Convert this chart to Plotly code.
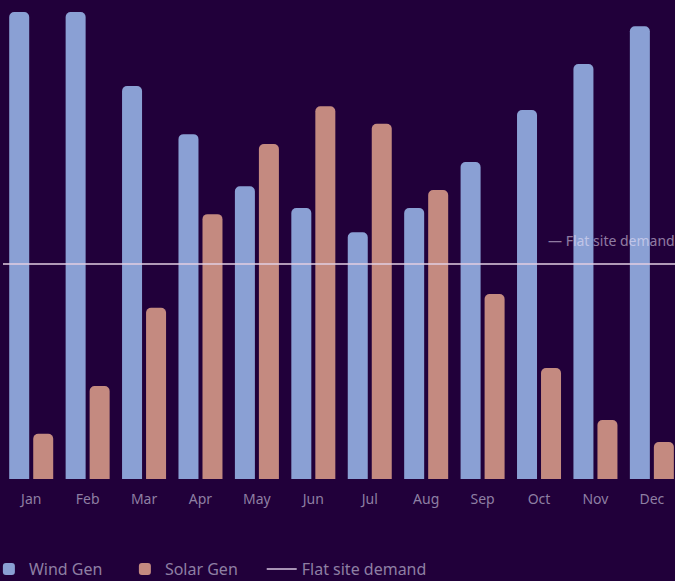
import plotly.graph_objects as go

months = ["Jan", "Feb", "Mar", "Apr", "May", "Jun", "Jul", "Aug", "Sep", "Oct", "Nov", "Dec"]
wind_gen = [108.6, 108.6, 91.4, 80.2, 68.1, 63.0, 57.4, 63.0, 73.7, 85.8, 96.5, 105.3]
solar_gen = [10.5, 21.6, 39.8, 61.6, 77.9, 86.7, 82.6, 67.2, 43.0, 25.8, 13.7, 8.6]
flat_demand = 50.0

BG = "#21003a"
TXT = "#8e7fa3"
WIND = "#8aa0d4"
SOLAR = "#c48a80"
LINE = "rgba(225,205,225,0.75)"
FONT = "Noto Sans, Open Sans, sans-serif"

fig = go.Figure()
fig.add_trace(go.Bar(name="Wind Gen", x=months, y=wind_gen, marker_color=WIND, marker_line_width=0))
fig.add_trace(go.Bar(name="Solar Gen", x=months, y=solar_gen, marker_color=SOLAR, marker_line_width=0))
fig.add_trace(go.Scatter(name="Flat site demand", x=[None], y=[None], mode="lines",
                         line=dict(color="#a893b5", width=2), legend="legend2"))

fig.add_shape(type="line", xref="paper", yref="y", x0=0, x1=1, y0=flat_demand, y1=flat_demand,
              line=dict(color=LINE, width=2), layer="above")
fig.add_annotation(xref="paper", yref="y", x=1, y=flat_demand, xanchor="right", yanchor="bottom",
                   text="— Flat site demand", showarrow=False, yshift=12, xshift=2,
                   font=dict(color="rgba(240,230,250,0.55)", size=14, family=FONT))

leg_common = dict(orientation="h", xref="paper", y=-0.188, yref="paper",
                  xanchor="left", yanchor="middle",
                  font=dict(size=16, color=TXT), itemwidth=30,
                  bgcolor="rgba(0,0,0,0)")

fig.update_layout(
    width=675, height=581,
    paper_bgcolor=BG, plot_bgcolor=BG,
    margin=dict(l=3, r=0, t=0, b=102, autoexpand=False),
    barmode="group", bargap=0.149, bargroupgap=0.167,
    barcornerradius=5,
    font=dict(family=FONT, color=TXT, size=14),
    xaxis=dict(range=[-0.5, 11.41], showgrid=False, zeroline=False, showline=False,
               ticks="", ticklabelstandoff=10, tickfont=dict(size=14, color=TXT)),
    yaxis=dict(range=[0, 111.4], showgrid=False, zeroline=False, showticklabels=False),
    legend=dict(x=-0.021, entrywidth=91, **leg_common),
    legend2=dict(x=0.385, **leg_common),
    showlegend=True,
)

fig.write_html("out.html")
